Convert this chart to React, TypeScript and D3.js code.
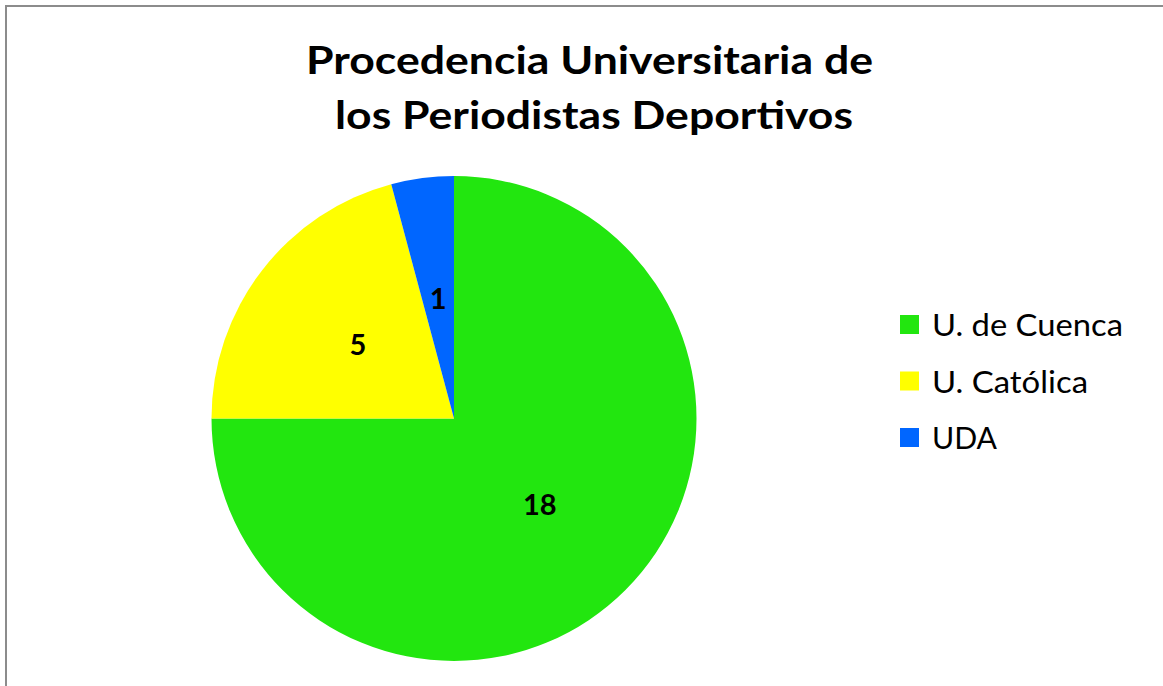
import React from 'react';
import * as d3 from 'd3';

// datos
const categorias = ['U. de Cuenca', 'U. Católica', 'UDA'];
const valores = [18, 5, 1];
const colores = ['#22e60f', '#ffff00', '#0066ff'];
const titulo = ['Procedencia Universitaria de', 'los Periodistas Deportivos'];
const anchoLeyenda = [191, 156, 65];

const W = 1163;
const H = 686;

const App = () => {
  const cx = 454;
  const cy = 418.5;
  const r = 242.5;

  const pie = d3.pie<number>().sort(null).value(d => d);
  const arcs = pie(valores);
  const arc = d3.arc<d3.PieArcDatum<number>>().innerRadius(0).outerRadius(r);

  const font = 'Lato, "Open Sans", sans-serif';

  return (
    <svg width={W} height={H} style={{ position: 'absolute', left: 0, top: 0 }}>
      <rect x={0} y={0} width={W} height={H} fill="#fff" />
      <rect x={6} y={6} width={W + 50} height={H + 50} fill="none" stroke="#8c8c8c" strokeWidth={2} />

      {/* título */}
      <text x={306} y={74} fontFamily={font} fontWeight="bold" fontSize={39} textLength={567} lengthAdjust="spacingAndGlyphs" fill="#000">
        {titulo[0]}
      </text>
      <text x={335} y={129} fontFamily={font} fontWeight="bold" fontSize={39} textLength={518} lengthAdjust="spacingAndGlyphs" fill="#000">
        {titulo[1]}
      </text>

      <g transform={`translate(${cx},${cy})`}>
        {arcs.map((a, i) => (
          <path key={i} d={arc(a) || ''} fill={colores[i]} />
        ))}
        {arcs.map((a, i) => {
          const [x, y] = arc.centroid(a);
          return (
            <text key={'l' + i} x={x} y={y} dy="0.36em" textAnchor="middle" fontFamily={font} fontWeight="bold" fontSize={29} fill="#000">
              {a.data}
            </text>
          );
        })}
      </g>

      {/* leyenda */}
      {categorias.map((c, i) => (
        <g key={c} transform={`translate(900,${315 + i * 56.5})`}>
          <rect x={0} y={0} width={19} height={19} fill={colores[i]} />
          <text x={32} y={21} fontFamily={font} fontSize={31} textLength={anchoLeyenda[i]} lengthAdjust="spacingAndGlyphs" fill="#000">
            {c}
          </text>
        </g>
      ))}
    </svg>
  );
};

export default App;
